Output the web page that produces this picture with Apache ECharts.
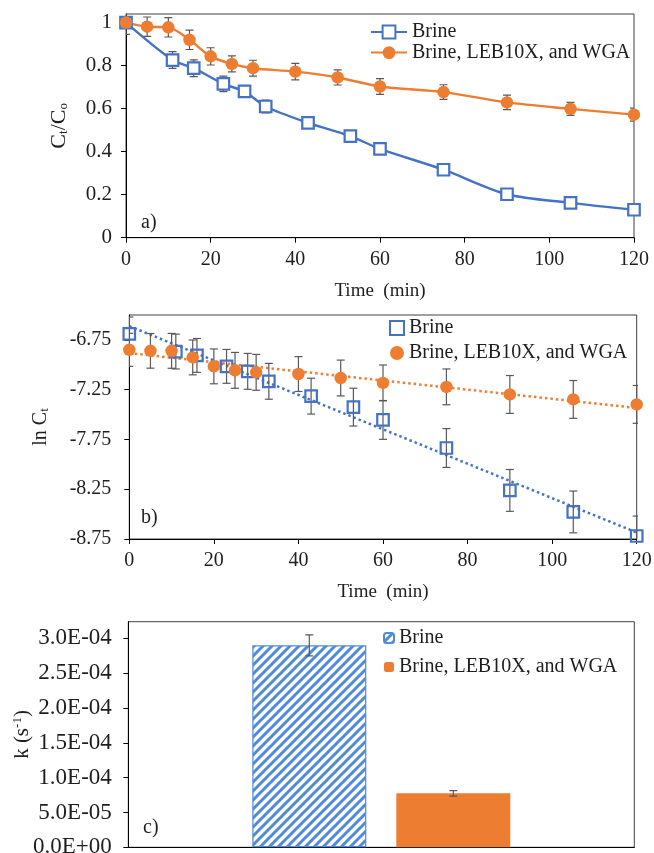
<!DOCTYPE html>
<html><head><meta charset="utf-8">
<script src="https://cdn.jsdelivr.net/npm/echarts@6/dist/echarts.min.js"></script>
<style>html,body{margin:0;padding:0;background:#fff}#c{width:654px;height:853px}</style>
</head><body><div id="c"></div>
<script>
// ---------- data ----------
const seriesLabels = ['Brine', 'Brine, LEB10X, and WGA'];

// panel a) Ct/Co vs time
const timeBrine = [0, 11, 16, 23, 28, 33, 43, 53, 60, 75, 90, 105, 120];
const ratioBrine = [1.0, 0.826, 0.788, 0.715, 0.68, 0.61, 0.534, 0.472, 0.413, 0.316, 0.202, 0.162, 0.13];
const ratioBrineErr = [0.055, 0.039, 0.039, 0.036, 0.025, 0.03, 0.02, 0.02, 0.02, 0.02, 0.02, 0.02, 0.015];
const timeMix = [0, 5, 10, 15, 20, 25, 30, 40, 50, 60, 75, 90, 105, 120];
const ratioMix = [1.0, 0.981, 0.978, 0.92, 0.843, 0.808, 0.788, 0.772, 0.745, 0.703, 0.677, 0.629, 0.599, 0.572];
const ratioMixErr = [0, 0.045, 0.045, 0.045, 0.04, 0.037, 0.037, 0.038, 0.035, 0.037, 0.034, 0.034, 0.03, 0.03];

// panel b) ln Ct vs time
const lnBrine = [-6.69, -6.867, -6.906, -7.016, -7.066, -7.166, -7.315, -7.425, -7.554, -7.836, -8.262, -8.478, -8.72];
const lnBrineErr = [0.17, 0.175, 0.17, 0.17, 0.18, 0.18, 0.18, 0.19, 0.195, 0.195, 0.21, 0.21, 0.2];
const lnMix = [-6.85, -6.86, -6.86, -6.926, -7.016, -7.056, -7.076, -7.093, -7.133, -7.182, -7.222, -7.298, -7.348, -7.398];
const lnMixErr = [0.166, 0.174, 0.175, 0.175, 0.175, 0.18, 0.18, 0.175, 0.18, 0.18, 0.18, 0.19, 0.19, 0.19];

// panel c) rate constants
const kCategory = [''];
const kValues = [2.9e-4, 7.75e-5];
const kErr = [1.5e-5, 4e-6];

// tick labels
const ratioTicks = [0, 0.2, 0.4, 0.6, 0.8, 1];
const lnTicks = [-8.75, -8.25, -7.75, -7.25, -6.75];
const kTicks = [0, 5e-5, 1e-4, 1.5e-4, 2e-4, 2.5e-4, 3e-4];

// ---------- style ----------
const FONT = '"Liberation Serif","Times New Roman",serif';
const BLUE = '#4472C4', ORANGE = '#ED7D31', HATCH = '#4F8BDA', ERR = '#595959', TXT = '#1e1e1e', FRAME = '#404040';
const LEG_FS = 20;
const BAR_W = 114, BAR_GAP = 30;

function hatchPattern() {
  const s = 9, c = document.createElement('canvas');
  c.width = s; c.height = s;
  const g = c.getContext('2d');
  g.fillStyle = '#fff'; g.fillRect(0, 0, s, s);
  g.strokeStyle = HATCH; g.lineWidth = 3;
  g.beginPath();
  g.moveTo(-1, s + 1); g.lineTo(s + 1, -1);
  g.moveTo(-s / 2 - 1, s / 2 + 1); g.lineTo(s / 2 + 1, -s / 2 - 1);
  g.moveTo(s / 2 - 1, s * 1.5 + 1); g.lineTo(s * 1.5 + 1, s / 2 - 1);
  g.stroke();
  return c;
}

function zip(xs, ys) { return xs.map((x, i) => [x, ys[i]]); }
function zip3(xs, ys, es) { return xs.map((x, i) => [x, ys[i], es[i]]); }

function linFit(xs, ys) {
  const n = xs.length;
  const mx = xs.reduce((a, b) => a + b, 0) / n, my = ys.reduce((a, b) => a + b, 0) / n;
  let sxy = 0, sxx = 0;
  for (let i = 0; i < n; i++) { sxy += (xs[i] - mx) * (ys[i] - my); sxx += (xs[i] - mx) ** 2; }
  const b = sxy / sxx, a = my - b * mx;
  const x0 = Math.min(...xs), x1 = Math.max(...xs);
  return [[x0, a + b * x0], [x1, a + b * x1]];
}

function errBar(offsetFn) {
  return function (params, api) {
    const e = api.value(2);
    if (!e) return null;
    const x = api.value(0), y = api.value(1);
    const off = offsetFn ? offsetFn(params, api) : 0;
    const t = api.coord([x, y + e]), b = api.coord([x, y - e]);
    const cx = t[0] + off, cw = 4;
    const st = { stroke: ERR, lineWidth: 1.2 };
    return {
      type: 'group', children: [
        { type: 'line', shape: { x1: cx, y1: t[1], x2: cx, y2: b[1] }, style: st },
        { type: 'line', shape: { x1: cx - cw, y1: t[1], x2: cx + cw, y2: t[1] }, style: st },
        { type: 'line', shape: { x1: cx - cw, y1: b[1], x2: cx + cw, y2: b[1] }, style: st }
      ]
    };
  };
}

function fmtExp(v) {
  const [m, e] = v.toExponential(1).split('e');
  const sign = e[0] === '-' ? '-' : '+';
  const d = e.replace(/[+-]/, '').padStart(2, '0');
  return m + 'E' + sign + d;
}

const axisLineStyle = { show: true, lineStyle: { color: '#000', width: 1 } };
function labelBase(fs) { return { fontSize: fs, fontFamily: FONT, color: TXT }; }
function titleRich(fs) {
  return {
    m: { fontSize: fs, fontFamily: FONT, color: TXT, lineHeight: 22 },
    s: { fontSize: 13, fontFamily: FONT, color: TXT, lineHeight: 13, verticalAlign: 'bottom' },
    p: { fontSize: 13, fontFamily: FONT, color: TXT, lineHeight: 13, verticalAlign: 'top' }
  };
}

function timeAxis(gi) {
  return {
    gridIndex: gi, type: 'value', min: 0, max: 120, interval: 20,
    axisLine: axisLineStyle,
    axisTick: { show: true, length: 5, lineStyle: { color: '#000' } },
    axisLabel: Object.assign({ margin: 12 }, labelBase(20)),
    splitLine: { show: false },
    name: 'Time  (min)', nameLocation: 'middle', nameGap: 44, nameMoveOverlap: false,
    nameTextStyle: { fontSize: 19, fontFamily: FONT, color: TXT }
  };
}

const hatch = hatchPattern();
const legendFmt = n => n.split('|')[1];
const gridBase = { show: true, borderColor: FRAME, borderWidth: 1, containLabel: false, outerBoundsMode: 'none' };

const option = {
  backgroundColor: '#fff',
  animation: false,
  grid: [
    Object.assign({ left: 126, top: 14, width: 508, height: 223.7 }, gridBase),
    Object.assign({ left: 129.3, top: 315, width: 507.4, height: 224 }, gridBase),
    Object.assign({ left: 128.3, top: 621.7, width: 506, height: 225.6 }, gridBase)
  ],
  xAxis: [
    timeAxis(0),
    timeAxis(1),
    { gridIndex: 2, type: 'category', data: kCategory, axisLine: axisLineStyle, axisTick: { show: false }, axisLabel: { show: false } }
  ],
  yAxis: [
    {
      gridIndex: 0, type: 'value', min: 0, max: 1.04,
      axisLine: axisLineStyle,
      axisTick: { show: true, length: 5, customValues: ratioTicks, lineStyle: { color: '#000' } },
      axisLabel: Object.assign({ margin: 14, customValues: ratioTicks }, labelBase(21)),
      splitLine: { show: false },
      name: '{m|C}{s|t}{m|/C}{s|o}', nameLocation: 'middle', nameRotate: 90, nameGap: 56, nameMoveOverlap: false,
      nameTextStyle: { rich: titleRich(22) }
    },
    {
      gridIndex: 1, type: 'value', min: -8.75, max: -6.5,
      axisLine: axisLineStyle,
      axisTick: { show: true, length: 5, customValues: lnTicks, lineStyle: { color: '#000' } },
      axisLabel: Object.assign({ margin: 18, customValues: lnTicks }, labelBase(20)),
      splitLine: { show: false },
      name: '{m|ln C}{s|t}', nameLocation: 'middle', nameRotate: 90, nameGap: 78, nameMoveOverlap: false,
      nameTextStyle: { rich: titleRich(20) }
    },
    {
      gridIndex: 2, type: 'value', min: 0, max: 3.24e-4,
      axisLine: axisLineStyle,
      axisTick: { show: true, length: 5, customValues: kTicks, lineStyle: { color: '#000' } },
      axisLabel: Object.assign({ margin: 16.5, customValues: kTicks, formatter: fmtExp }, labelBase(23)),
      splitLine: { show: false },
      name: '{m|k (s}{p|-1}{m|)}', nameLocation: 'middle', nameRotate: 90, nameGap: 95, nameMoveOverlap: false,
      nameTextStyle: { rich: titleRich(21) }
    }
  ],
  legend: [
    {
      data: ['a|' + seriesLabels[0], 'a|' + seriesLabels[1]], formatter: legendFmt, selectedMode: false,
      orient: 'vertical', left: 370, top: 22, itemWidth: 36, itemHeight: 16, itemGap: 0.6, padding: 0,
      textStyle: { fontSize: LEG_FS, fontFamily: FONT, color: TXT, lineHeight: 20 }
    },
    {
      data: ['b|' + seriesLabels[0], 'b|' + seriesLabels[1]], formatter: legendFmt, selectedMode: false,
      orient: 'vertical', left: 389, top: 318, itemWidth: 14, itemHeight: 14, itemGap: 5, padding: 0,
      textStyle: { fontSize: LEG_FS, fontFamily: FONT, color: TXT, lineHeight: 20 }
    },
    {
      data: ['c|' + seriesLabels[0], 'c|' + seriesLabels[1]], formatter: legendFmt, selectedMode: false,
      orient: 'vertical', left: 383, top: 628, itemWidth: 10, itemHeight: 10, itemGap: 9, padding: 0,
      textStyle: { fontSize: LEG_FS, fontFamily: FONT, color: TXT, lineHeight: 20 }
    }
  ],
  graphic: [
    { type: 'text', x: 141, y: 223, style: { text: 'a)', font: '20px ' + FONT, fill: TXT, textVerticalAlign: 'middle' } },
    { type: 'text', x: 141, y: 518, style: { text: 'b)', font: '20px ' + FONT, fill: TXT, textVerticalAlign: 'middle' } },
    { type: 'text', x: 143, y: 828, style: { text: 'c)', font: '20px ' + FONT, fill: TXT, textVerticalAlign: 'middle' } }
  ],
  series: [
    // ----- panel a -----
    {
      type: 'custom', name: 'errMixA', xAxisIndex: 0, yAxisIndex: 0, clip: true,
      data: zip3(timeMix, ratioMix, ratioMixErr), renderItem: errBar(), z: 2
    },
    {
      type: 'line', name: 'a|' + seriesLabels[0], xAxisIndex: 0, yAxisIndex: 0,
      data: zip(timeBrine, ratioBrine), smooth: 0.3, symbol: 'rect', symbolSize: 11.5,
      lineStyle: { color: BLUE, width: 2.4 },
      itemStyle: { color: '#fff', borderColor: BLUE, borderWidth: 2.2 }, z: 2
    },
    {
      type: 'custom', name: 'errBrineA', xAxisIndex: 0, yAxisIndex: 0, clip: true,
      data: zip3(timeBrine, ratioBrine, ratioBrineErr), renderItem: errBar(), z: 2
    },
    {
      type: 'line', name: 'a|' + seriesLabels[1], xAxisIndex: 0, yAxisIndex: 0,
      data: zip(timeMix, ratioMix), smooth: 0.3, symbol: 'circle', symbolSize: 12.5,
      lineStyle: { color: ORANGE, width: 2.4 },
      itemStyle: { color: ORANGE, borderColor: ORANGE, borderWidth: 0 }, z: 2
    },
    // ----- panel b -----
    {
      type: 'line', name: 'trendBrine', xAxisIndex: 1, yAxisIndex: 1, data: linFit(timeBrine, lnBrine),
      symbol: 'none', lineStyle: { color: BLUE, width: 2.5, type: [2.5, 3] }, z: 1, silent: true
    },
    {
      type: 'line', name: 'trendMix', xAxisIndex: 1, yAxisIndex: 1, data: linFit(timeMix, lnMix),
      symbol: 'none', lineStyle: { color: ORANGE, width: 2.5, type: [2.5, 3] }, z: 1, silent: true
    },
    {
      type: 'scatter', name: 'b|' + seriesLabels[0], xAxisIndex: 1, yAxisIndex: 1,
      data: zip(timeBrine, lnBrine), symbol: 'rect', symbolSize: 11.5,
      itemStyle: { color: 'rgba(255,255,255,0)', borderColor: BLUE, borderWidth: 2.2, opacity: 1 }, z: 2
    },
    {
      type: 'custom', name: 'errBrineB', xAxisIndex: 1, yAxisIndex: 1, clip: true,
      data: zip3(timeBrine, lnBrine, lnBrineErr), renderItem: errBar(), z: 2
    },
    {
      type: 'custom', name: 'errMixB', xAxisIndex: 1, yAxisIndex: 1, clip: true,
      data: zip3(timeMix, lnMix, lnMixErr), renderItem: errBar(), z: 2
    },
    {
      type: 'scatter', name: 'b|' + seriesLabels[1], xAxisIndex: 1, yAxisIndex: 1,
      data: zip(timeMix, lnMix), symbol: 'circle', symbolSize: 12.5,
      itemStyle: { color: ORANGE, opacity: 1 }, z: 2
    },
    // ----- panel c -----
    {
      type: 'bar', name: 'c|' + seriesLabels[0], xAxisIndex: 2, yAxisIndex: 2,
      data: [kValues[0]], barWidth: BAR_W, barGap: (BAR_GAP / BAR_W * 100) + '%',
      itemStyle: { color: { image: hatch, repeat: 'repeat' }, borderColor: HATCH, borderWidth: 1.2 }
    },
    {
      type: 'bar', name: 'c|' + seriesLabels[1], xAxisIndex: 2, yAxisIndex: 2,
      data: [kValues[1]], barWidth: BAR_W,
      itemStyle: { color: ORANGE }
    },
    {
      type: 'custom', name: 'errK', xAxisIndex: 2, yAxisIndex: 2, clip: true, z: 3,
      data: kValues.map((v, i) => [0, v, kErr[i], i]),
      renderItem: errBar((params, api) => (api.value(3) === 0 ? -1 : 1) * (BAR_W + BAR_GAP) / 2)
    }
  ]
};

const chart = echarts.init(document.getElementById('c'), null, { renderer: 'canvas' });
chart.setOption(option);
</script>
</body></html>
